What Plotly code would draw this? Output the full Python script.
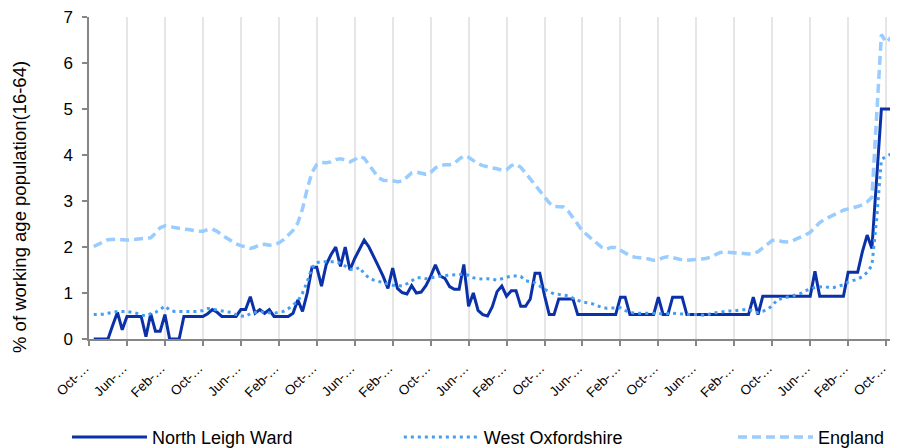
import plotly.graph_objects as go

# ---- data (monthly points; index 1..171 on the category axis) ----
north_leigh = [
    0, 0, 0, 0, 0.3, 0.58, 0.2, 0.49, 0.49, 0.49,
    0.49, 0.05, 0.55, 0.17, 0.17, 0.53, 0, 0, 0, 0.49,
    0.49, 0.49, 0.49, 0.49, 0.55, 0.64, 0.58, 0.49, 0.49, 0.49,
    0.49, 0.64, 0.64, 0.92, 0.56, 0.64, 0.56, 0.64, 0.49, 0.49,
    0.49, 0.49, 0.56, 0.85, 0.6, 1.0, 1.56, 1.56, 1.15, 1.62,
    1.83, 2.0, 1.58, 2.0, 1.5, 1.75, 1.95, 2.15, 2.0, 1.8,
    1.58, 1.36, 1.1, 1.54, 1.1, 1.01, 0.98, 1.16, 1.0, 1.02,
    1.16, 1.36, 1.61, 1.37, 1.32, 1.14, 1.08, 1.08, 1.62, 0.71,
    1.0, 0.62, 0.53, 0.5, 0.7, 1.03, 1.15, 0.93, 1.05, 1.05,
    0.71, 0.71, 0.87, 1.43, 1.43, 0.95, 0.53, 0.53, 0.87, 0.87,
    0.87, 0.87, 0.53, 0.53, 0.53, 0.53, 0.53, 0.53, 0.53, 0.53,
    0.53, 0.91, 0.91, 0.53, 0.53, 0.53, 0.53, 0.53, 0.53, 0.91,
    0.53, 0.53, 0.91, 0.91, 0.91, 0.53, 0.53, 0.53, 0.53, 0.53,
    0.53, 0.53, 0.53, 0.53, 0.53, 0.53, 0.53, 0.53, 0.53, 0.91,
    0.53, 0.93, 0.93, 0.93, 0.93, 0.93, 0.93, 0.93, 0.93, 0.93,
    0.93, 0.93, 1.47, 0.93, 0.93, 0.93, 0.93, 0.93, 0.93, 1.45,
    1.45, 1.45, 1.9, 2.26, 1.97, 3.5, 5.0, 5.0, 5.0, 4.63,
    4.63,
]

west_oxfordshire = [
    0.53, 0.53, 0.54, 0.56, 0.58, 0.6, 0.6, 0.6, 0.58, 0.56,
    0.52, 0.5, 0.55, 0.58, 0.64, 0.72, 0.63, 0.6, 0.6, 0.6,
    0.6, 0.6, 0.6, 0.62, 0.66, 0.65, 0.63, 0.6, 0.59, 0.58,
    0.53, 0.5, 0.49, 0.55, 0.58, 0.6, 0.58, 0.57, 0.56, 0.58,
    0.6, 0.66, 0.74, 0.82, 1.0, 1.25, 1.55, 1.66, 1.68, 1.68,
    1.68, 1.68, 1.65, 1.58, 1.52, 1.5, 1.56, 1.42, 1.33, 1.28,
    1.25, 1.22, 1.2, 1.17, 1.16, 1.15, 1.2, 1.26, 1.33, 1.33,
    1.31, 1.33, 1.35, 1.37, 1.38, 1.39, 1.39, 1.4, 1.41, 1.38,
    1.33, 1.31, 1.3, 1.31, 1.29, 1.28, 1.31, 1.34, 1.37, 1.37,
    1.36, 1.27, 1.24, 1.22, 1.15, 1.08, 1.03, 0.98, 0.97, 0.96,
    0.94, 0.89, 0.85, 0.8, 0.79, 0.77, 0.73, 0.69, 0.67, 0.67,
    0.68, 0.68, 0.62, 0.58, 0.56, 0.56, 0.55, 0.55, 0.56, 0.56,
    0.54, 0.55, 0.56, 0.55, 0.54, 0.54, 0.53, 0.53, 0.52, 0.51,
    0.55, 0.57, 0.58, 0.6, 0.61, 0.61, 0.63, 0.64, 0.64, 0.6,
    0.57, 0.6, 0.65, 0.72, 0.85, 0.88, 0.9, 0.93, 0.96, 0.99,
    1.05, 1.08, 1.12, 1.13, 1.14, 1.12, 1.12, 1.15, 1.18, 1.24,
    1.27, 1.3, 1.36, 1.45, 1.6, 2.6, 3.9, 3.97, 4.02, 4.07,
    4.0,
]

england = [
    2.01, 2.05, 2.11, 2.16, 2.17, 2.17, 2.16, 2.15, 2.16, 2.17,
    2.18, 2.18, 2.2, 2.3, 2.42, 2.46, 2.44, 2.42, 2.4, 2.39,
    2.38, 2.36, 2.34, 2.34, 2.38, 2.39, 2.34, 2.26, 2.19, 2.13,
    2.07, 2.03, 1.99, 1.97, 2.0, 2.05, 2.06, 2.04, 2.05, 2.09,
    2.16, 2.25, 2.36, 2.52, 2.83, 3.27, 3.62, 3.79, 3.84, 3.83,
    3.85, 3.9, 3.92, 3.89, 3.85, 3.9, 3.97, 3.93, 3.79, 3.63,
    3.51, 3.45, 3.45, 3.44, 3.42, 3.43, 3.52, 3.61, 3.63, 3.61,
    3.58, 3.62, 3.72, 3.77, 3.79, 3.79, 3.82, 3.91, 3.98, 3.95,
    3.87, 3.81, 3.77, 3.74, 3.72, 3.7, 3.67, 3.68, 3.77, 3.8,
    3.73, 3.61, 3.48, 3.36, 3.24, 3.11, 2.96, 2.88, 2.88, 2.87,
    2.78, 2.64, 2.48, 2.35, 2.26, 2.18, 2.1, 2.0, 1.95, 1.99,
    1.99, 1.93, 1.86, 1.81, 1.78, 1.77, 1.76, 1.74, 1.71, 1.72,
    1.77, 1.79, 1.77, 1.74, 1.72, 1.71, 1.72, 1.73, 1.74, 1.75,
    1.78, 1.83, 1.88, 1.89, 1.88, 1.87, 1.86, 1.85, 1.85, 1.86,
    1.9, 1.98, 2.07, 2.14, 2.15, 2.12, 2.11, 2.12, 2.17, 2.21,
    2.26, 2.32, 2.42, 2.53, 2.6, 2.65, 2.7, 2.76, 2.8, 2.83,
    2.85, 2.88, 2.92, 2.98, 3.08, 4.9, 6.62, 6.45, 6.55, 6.65,
    6.72,
]

tick_labels = ["Oct-…", "Jun-…", "Feb-…"] * 7 + ["Oct-…"]
tick_step = 8
y_title = "% of working age population(16-64)"

assert len(north_leigh) == len(west_oxfordshire) == len(england), (
    len(north_leigh), len(west_oxfordshire), len(england))

x = list(range(1, len(england) + 1))
tick_pos = [i * tick_step for i in range(len(tick_labels))]

FONT = "Liberation Sans, Arial, sans-serif"

fig = go.Figure()
fig.add_trace(go.Scatter(
    x=x, y=north_leigh, name="North Leigh Ward", mode="lines",
    line=dict(color="#0B31A8", width=3), legend="legend"))
fig.add_trace(go.Scatter(
    x=x, y=west_oxfordshire, name="West Oxfordshire", mode="lines",
    line=dict(color="#439DF3", width=3, dash="3px,4px"), legend="legend2"))
fig.add_trace(go.Scatter(
    x=x, y=england, name="England", mode="lines",
    line=dict(color="#99CCFF", width=3.5, dash="9px,5px"), legend="legend3"))

leg_common = dict(
    orientation="h", xanchor="left", y=-0.305, yanchor="middle",
    font=dict(size=18, family=FONT), itemwidth=75,
    bgcolor="rgba(0,0,0,0)")

# the page body adds an 8px offset, so margins are shifted by 8px
fig.update_layout(
    width=898, height=448,
    margin=dict(l=81, r=8, t=9, b=117, autoexpand=False),
    paper_bgcolor="white", plot_bgcolor="white",
    font=dict(family=FONT, color="#000000", size=16),
    showlegend=True,
    legend=dict(x=-0.0272, **leg_common),
    legend2=dict(x=0.383, **leg_common),
    legend3=dict(x=0.796, **leg_common),
    xaxis=dict(
        range=[0, 170.5], tickmode="array", tickvals=tick_pos,
        ticktext=tick_labels, tickangle=-45, automargin=False,
        ticklabeloverflow="allow",
        tickfont=dict(size=13.5, family=FONT),
        ticklabelstandoff=9, ticklabelshift=-4,
        ticks="outside", ticklen=5, tickcolor="#868686", tickwidth=1.5,
        showline=True, linecolor="#868686", linewidth=1.5,
        showgrid=True, gridcolor="#E6E6E6", gridwidth=1.5, zeroline=False),
    yaxis=dict(
        range=[0, 7], tickmode="linear", tick0=0, dtick=1, automargin=False,
        ticklabeloverflow="allow",
        tickfont=dict(size=17, family=FONT), ticklabelstandoff=6,
        ticks="outside", ticklen=5, tickcolor="#868686", tickwidth=1.5,
        showline=True, linecolor="#868686", linewidth=1.5,
        showgrid=False, zeroline=False),
    annotations=[dict(
        text=y_title, textangle=-90, xref="paper", yref="paper",
        x=-0.0853, y=0.41, xanchor="center", yanchor="middle",
        showarrow=False, font=dict(size=18.5, family=FONT, color="#000000"))],
)

fig.write_html("out.html")
